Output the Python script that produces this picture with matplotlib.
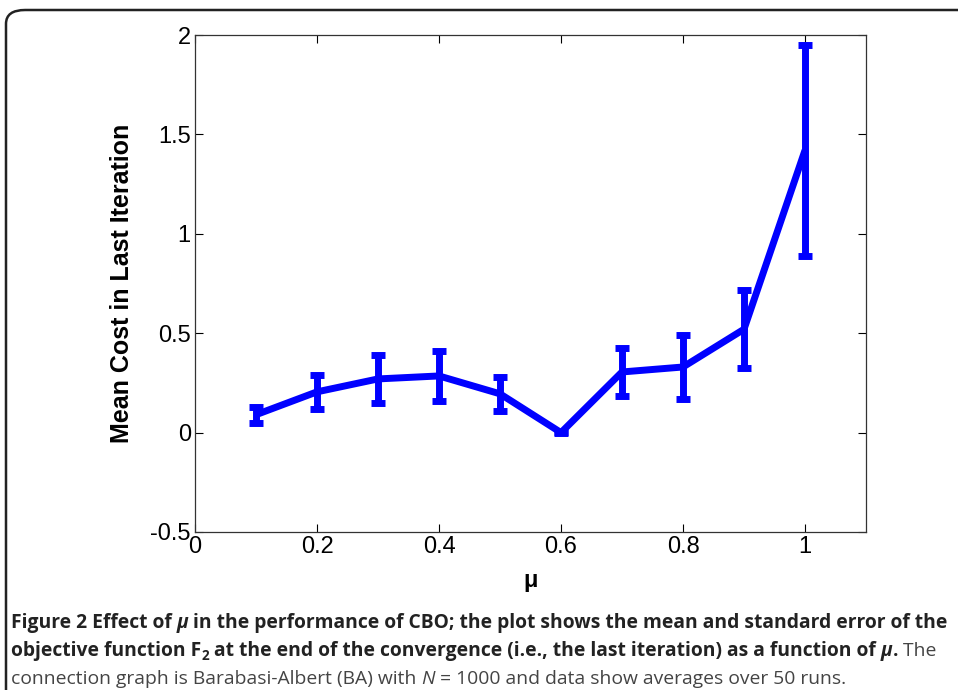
import matplotlib
matplotlib.use('Agg')
import matplotlib.pyplot as plt
from matplotlib.patches import FancyBboxPatch

# data
mu = [0.1, 0.2, 0.3, 0.4, 0.5, 0.6, 0.7, 0.8, 0.9, 1.0]
mean_cost = [0.09, 0.205, 0.27, 0.285, 0.195, 0.0, 0.305, 0.33, 0.52, 1.42]
std_err = [0.04, 0.085, 0.12, 0.125, 0.085, 0.004, 0.12, 0.16, 0.195, 0.53]

x_ticks = [0, 0.2, 0.4, 0.6, 0.8, 1]
y_ticks = [-0.5, 0, 0.5, 1, 1.5, 2]

caption_lines = [
    [("Figure 2 Effect of ", "bold", "normal"), ("\u03bc", "bold", "italic"),
     (" in the performance of CBO; the plot shows the mean and standard error of the", "bold", "normal")],
    [("objective function F", "bold", "normal"), ("2", "bold", "normal", "sub"),
     (" at the end of the convergence (i.e., the last iteration) as a function of ", "bold", "normal"),
     ("\u03bc", "bold", "italic"), (".", "bold", "normal"), (" The", "normal", "normal")],
    [("connection graph is Barabasi-Albert (BA) with ", "normal", "normal"), ("N", "normal", "italic"),
     (" = 1000 and data show averages over 50 runs.", "normal", "normal")],
]

fig = plt.figure(figsize=(9.58, 6.90), dpi=100)
W, H = 958, 690

# rounded frame around the figure
frame = FancyBboxPatch((6 / W, -0.2), 1.2, 1 - 10 / H + 0.2,
                       boxstyle="round,pad=0,rounding_size=0.02",
                       transform=fig.transFigure, fill=False,
                       edgecolor='#222222', linewidth=1.8)
fig.patches.append(frame)

ax = fig.add_axes([195 / W, 1 - 532 / H, 671 / W, 497 / H])
ax.errorbar(mu, mean_cost, yerr=std_err, color='#0000ff', linewidth=5,
            elinewidth=5, capsize=5, capthick=5, solid_capstyle='butt')
ax.set_xlim(0, 1.1)
ax.set_ylim(-0.5, 2)
ax.set_xticks(x_ticks)
ax.set_xticklabels([f'{t:g}' for t in x_ticks], family='Liberation Sans', fontsize=17)
ax.set_yticks(y_ticks)
ax.set_yticklabels([f'{t:g}' for t in y_ticks], family='Liberation Sans', fontsize=17)
ax.tick_params(direction='in', length=6, top=True, right=True, width=0.8, pad=3)
for sp in ax.spines.values():
    sp.set_color('#333333')
    sp.set_linewidth(0.9)
ax.set_xlabel('\u03bc', fontsize=17, fontweight='bold', family='Liberation Sans', labelpad=8)
ax.set_ylabel('Mean Cost in Last Iteration', fontsize=18, fontweight='bold',
              family='Liberation Sans', labelpad=12)

# caption, drawn piece by piece
renderer = fig.canvas.get_renderer()
cap_size = 13.9
baselines = [628, 656, 684]
for line, yb in zip(caption_lines, baselines):
    xpos = 11
    for seg in line:
        txt, weight, style = seg[0], seg[1], seg[2]
        size = cap_size
        dy = 0
        if len(seg) > 3:
            size = cap_size * 0.7
            dy = 4
        t = fig.text(xpos / W, 1 - (yb + dy) / H, txt, fontsize=size,
                     fontweight=weight, fontstyle=style, family='Open Sans',
                     color='#222222' if weight == 'bold' else '#444444',
                     va='baseline', ha='left')
        bb = t.get_window_extent(renderer=renderer)
        xpos += bb.width

fig.savefig('out.png', dpi=100)
